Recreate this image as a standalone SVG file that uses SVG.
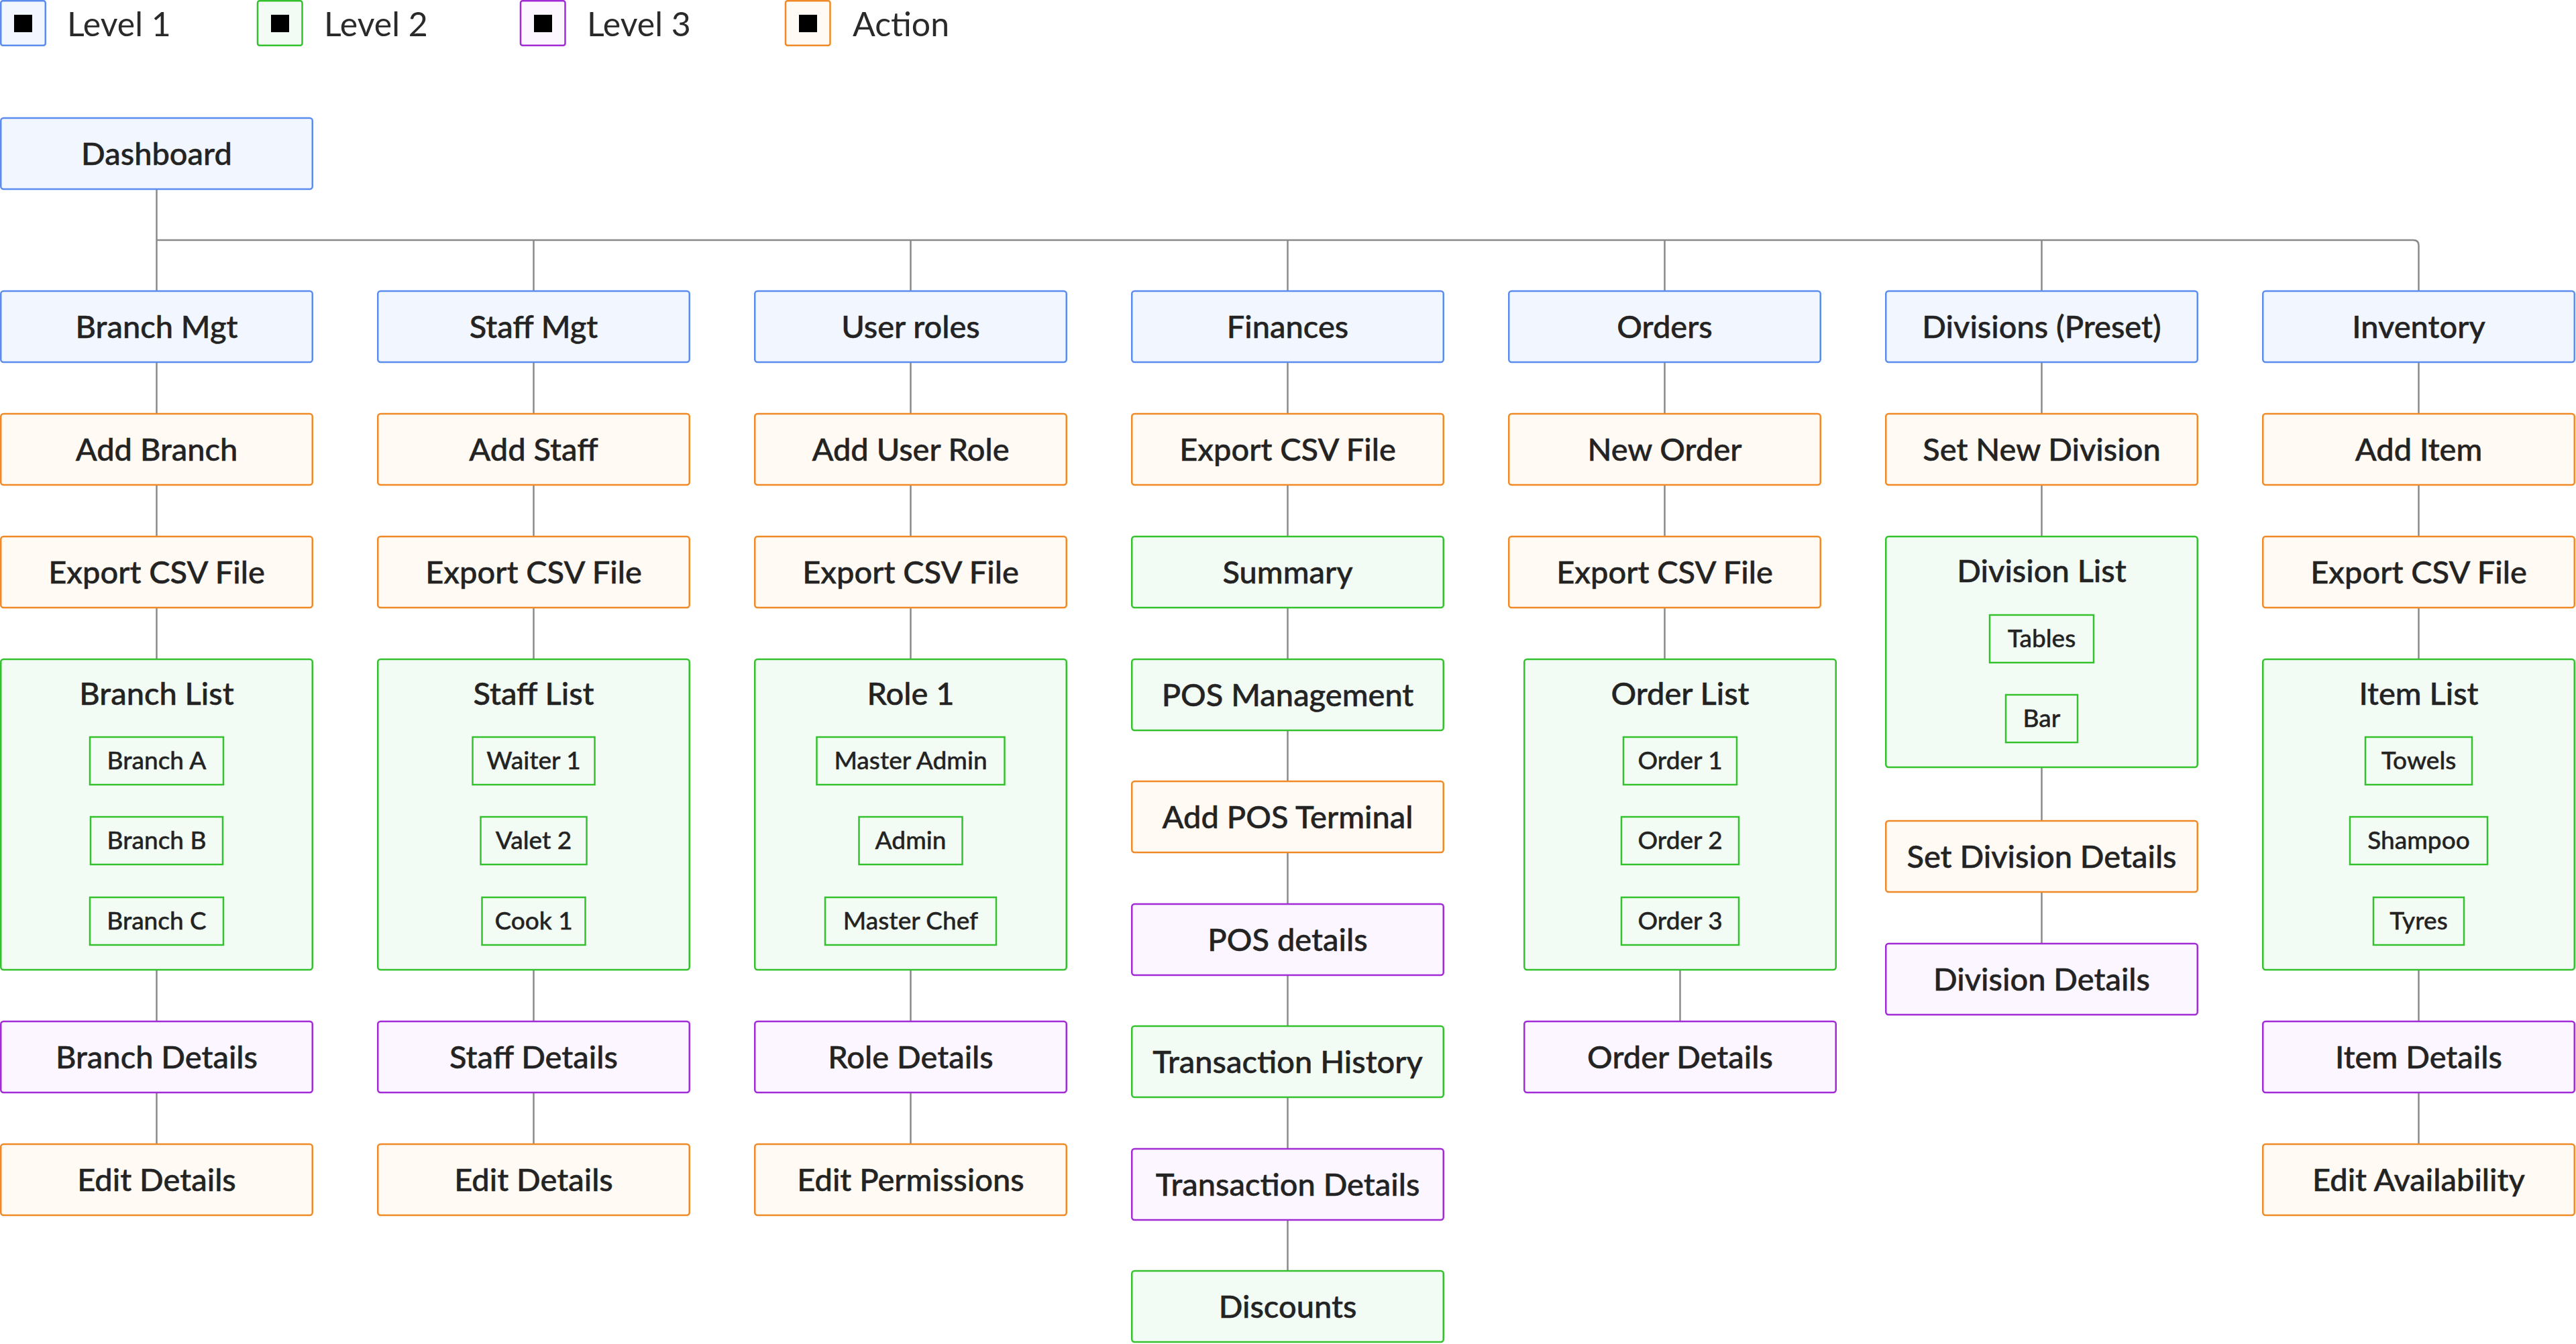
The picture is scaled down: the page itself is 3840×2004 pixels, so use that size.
<svg xmlns="http://www.w3.org/2000/svg" width="3840" height="2004" viewBox="0 0 3840 2004">
<style>
.l1{fill:#f2f6ff;stroke:#5b8def;stroke-width:2.5}
.l2{fill:#f3fcf4;stroke:#33c22e;stroke-width:2.5}
.l3{fill:#fbf6ff;stroke:#a22bd6;stroke-width:2.5}
.ac{fill:#fffaf4;stroke:#f08a26;stroke-width:2.5}
.it{fill:#f3fcf4;stroke:#33c22e;stroke-width:2.5}
.sq{fill:#000}
text{font-family:Lato,"Liberation Sans",sans-serif;fill:#232323;text-anchor:middle}
.t{font-size:47px;font-weight:500;stroke:#232323;stroke-width:0.5px}
.s{font-size:37px;font-weight:500;stroke:#232323;stroke-width:0.4px}
.lg{font-size:50px;text-anchor:start;fill:#2a2a2a}
.c{fill:none;stroke:#8a8a8a;stroke-width:2.5}
</style>

<g id="legend">
  <rect class="l1" x="1.25" y="1.25" width="66.5" height="66.5" rx="3"/><rect class="sq" x="21" y="22" width="27" height="26"/><text class="lg" x="100" y="54">Level 1</text>
  <rect class="l2" x="384" y="1.25" width="66.5" height="66.5" rx="3"/><rect class="sq" x="404" y="22" width="27" height="26"/><text class="lg" x="483" y="54">Level 2</text>
  <rect class="l3" x="776" y="1.25" width="66.5" height="66.5" rx="3"/><rect class="sq" x="796" y="22" width="27" height="26"/><text class="lg" x="875" y="54">Level 3</text>
  <rect class="ac" x="1171" y="1.25" width="66.5" height="66.5" rx="3"/><rect class="sq" x="1191" y="22" width="27" height="26"/><text class="lg" x="1271" y="54">Action</text>
</g>

<g id="connectors">
  <path class="c" d="M233.5 282V434"/>
  <path class="c" d="M233.5 358H3597.5Q3605.5 358 3605.5 366V434"/>
  <path class="c" d="M795.5 358V434M1357.5 358V434M1919.5 358V434M2481.5 358V434M3043.5 358V434"/>
  <path class="c" d="M233.5 540V617M233.5 723V800M233.5 906V983M233.5 1446V1523M233.5 1629V1706"/>
  <path class="c" d="M795.5 540V617M795.5 723V800M795.5 906V983M795.5 1446V1523M795.5 1629V1706"/>
  <path class="c" d="M1357.5 540V617M1357.5 723V800M1357.5 906V983M1357.5 1446V1523M1357.5 1629V1706"/>
  <path class="c" d="M1919.5 540V617M1919.5 723V800M1919.5 906V983M1919.5 1089V1165M1919.5 1271V1348M1919.5 1454V1530M1919.5 1636V1713M1919.5 1819V1895"/>
  <path class="c" d="M2481.5 540V617M2481.5 723V800M2481.5 906V983M2504.5 1446V1523"/>
  <path class="c" d="M3043.5 540V617M3043.5 723V800M3043.5 1144V1224M3043.5 1330V1407"/>
  <path class="c" d="M3605.5 540V617M3605.5 723V800M3605.5 906V983M3605.5 1446V1523M3605.5 1629V1706"/>
</g>

<g id="n-dashboard"><rect class="l1" x="1.25" y="176" width="464.5" height="106" rx="4"/><text class="t" x="233.5" y="246">Dashboard</text></g>

<!-- Column 0 -->
<g id="n-branch-mgt"><rect class="l1" x="1.25" y="434" width="464.5" height="106" rx="4"/><text class="t" x="233.5" y="504">Branch Mgt</text></g>
<g id="n-add-branch"><rect class="ac" x="1.25" y="617" width="464.5" height="106" rx="4"/><text class="t" x="233.5" y="687">Add Branch</text></g>
<g id="n-branch-export"><rect class="ac" x="1.25" y="800" width="464.5" height="106" rx="4"/><text class="t" x="233.5" y="870">Export CSV File</text></g>
<g id="n-branch-list"><rect class="l2" x="1.25" y="983" width="464.5" height="463" rx="4"/><text class="t" x="233.5" y="1051">Branch List</text>
  <rect class="it" x="134" y="1099" width="199" height="71"/><text class="s" x="233.5" y="1147">Branch A</text>
  <rect class="it" x="135" y="1218" width="197" height="71"/><text class="s" x="233.5" y="1266">Branch B</text>
  <rect class="it" x="134" y="1338" width="199" height="71"/><text class="s" x="233.5" y="1386">Branch C</text>
</g>
<g id="n-branch-details"><rect class="l3" x="1.25" y="1523" width="464.5" height="106" rx="4"/><text class="t" x="233.5" y="1593">Branch Details</text></g>
<g id="n-branch-edit"><rect class="ac" x="1.25" y="1706" width="464.5" height="106" rx="4"/><text class="t" x="233.5" y="1776">Edit Details</text></g>

<!-- Column 1 -->
<g id="n-staff-mgt"><rect class="l1" x="563.25" y="434" width="464.5" height="106" rx="4"/><text class="t" x="795.5" y="504">Staff Mgt</text></g>
<g id="n-add-staff"><rect class="ac" x="563.25" y="617" width="464.5" height="106" rx="4"/><text class="t" x="795.5" y="687">Add Staff</text></g>
<g id="n-staff-export"><rect class="ac" x="563.25" y="800" width="464.5" height="106" rx="4"/><text class="t" x="795.5" y="870">Export CSV File</text></g>
<g id="n-staff-list"><rect class="l2" x="563.25" y="983" width="464.5" height="463" rx="4"/><text class="t" x="795.5" y="1051">Staff List</text>
  <rect class="it" x="704.5" y="1099" width="182" height="71"/><text class="s" x="795.5" y="1147">Waiter 1</text>
  <rect class="it" x="716.5" y="1218" width="158" height="71"/><text class="s" x="795.5" y="1266">Valet 2</text>
  <rect class="it" x="718.5" y="1338" width="154" height="71"/><text class="s" x="795.5" y="1386">Cook 1</text>
</g>
<g id="n-staff-details"><rect class="l3" x="563.25" y="1523" width="464.5" height="106" rx="4"/><text class="t" x="795.5" y="1593">Staff Details</text></g>
<g id="n-staff-edit"><rect class="ac" x="563.25" y="1706" width="464.5" height="106" rx="4"/><text class="t" x="795.5" y="1776">Edit Details</text></g>

<!-- Column 2 -->
<g id="n-user-roles"><rect class="l1" x="1125.25" y="434" width="464.5" height="106" rx="4"/><text class="t" x="1357.5" y="504">User roles</text></g>
<g id="n-add-role"><rect class="ac" x="1125.25" y="617" width="464.5" height="106" rx="4"/><text class="t" x="1357.5" y="687">Add User Role</text></g>
<g id="n-role-export"><rect class="ac" x="1125.25" y="800" width="464.5" height="106" rx="4"/><text class="t" x="1357.5" y="870">Export CSV File</text></g>
<g id="n-role-1"><rect class="l2" x="1125.25" y="983" width="464.5" height="463" rx="4"/><text class="t" x="1357.5" y="1051">Role 1</text>
  <rect class="it" x="1217.5" y="1099" width="280" height="71"/><text class="s" x="1357.5" y="1147">Master Admin</text>
  <rect class="it" x="1280.5" y="1218" width="154" height="71"/><text class="s" x="1357.5" y="1266">Admin</text>
  <rect class="it" x="1230" y="1338" width="255" height="71"/><text class="s" x="1357.5" y="1386">Master Chef</text>
</g>
<g id="n-role-details"><rect class="l3" x="1125.25" y="1523" width="464.5" height="106" rx="4"/><text class="t" x="1357.5" y="1593">Role Details</text></g>
<g id="n-role-edit"><rect class="ac" x="1125.25" y="1706" width="464.5" height="106" rx="4"/><text class="t" x="1357.5" y="1776">Edit Permissions</text></g>

<!-- Column 3 -->
<g id="n-finances"><rect class="l1" x="1687.25" y="434" width="464.5" height="106" rx="4"/><text class="t" x="1919.5" y="504">Finances</text></g>
<g id="n-fin-export"><rect class="ac" x="1687.25" y="617" width="464.5" height="106" rx="4"/><text class="t" x="1919.5" y="687">Export CSV File</text></g>
<g id="n-summary"><rect class="l2" x="1687.25" y="800" width="464.5" height="106" rx="4"/><text class="t" x="1919.5" y="870">Summary</text></g>
<g id="n-pos-mgmt"><rect class="l2" x="1687.25" y="983" width="464.5" height="106" rx="4"/><text class="t" x="1919.5" y="1053">POS Management</text></g>
<g id="n-add-pos"><rect class="ac" x="1687.25" y="1165" width="464.5" height="106" rx="4"/><text class="t" x="1919.5" y="1235">Add POS Terminal</text></g>
<g id="n-pos-details"><rect class="l3" x="1687.25" y="1348" width="464.5" height="106" rx="4"/><text class="t" x="1919.5" y="1418">POS details</text></g>
<g id="n-txn-history"><rect class="l2" x="1687.25" y="1530" width="464.5" height="106" rx="4"/><text class="t" x="1919.5" y="1600">Transaction History</text></g>
<g id="n-txn-details"><rect class="l3" x="1687.25" y="1713" width="464.5" height="106" rx="4"/><text class="t" x="1919.5" y="1783">Transaction Details</text></g>
<g id="n-discounts"><rect class="l2" x="1687.25" y="1895" width="464.5" height="106" rx="4"/><text class="t" x="1919.5" y="1965">Discounts</text></g>

<!-- Column 4 -->
<g id="n-orders"><rect class="l1" x="2249.25" y="434" width="464.5" height="106" rx="4"/><text class="t" x="2481.5" y="504">Orders</text></g>
<g id="n-new-order"><rect class="ac" x="2249.25" y="617" width="464.5" height="106" rx="4"/><text class="t" x="2481.5" y="687">New Order</text></g>
<g id="n-order-export"><rect class="ac" x="2249.25" y="800" width="464.5" height="106" rx="4"/><text class="t" x="2481.5" y="870">Export CSV File</text></g>
<g id="n-order-list"><rect class="l2" x="2272.25" y="983" width="464.5" height="463" rx="4"/><text class="t" x="2504.5" y="1051">Order List</text>
  <rect class="it" x="2420" y="1099" width="169" height="71"/><text class="s" x="2504.5" y="1147">Order 1</text>
  <rect class="it" x="2417" y="1218" width="175" height="71"/><text class="s" x="2504.5" y="1266">Order 2</text>
  <rect class="it" x="2417" y="1338" width="175" height="71"/><text class="s" x="2504.5" y="1386">Order 3</text>
</g>
<g id="n-order-details"><rect class="l3" x="2272.25" y="1523" width="464.5" height="106" rx="4"/><text class="t" x="2504.5" y="1593">Order Details</text></g>

<!-- Column 5 -->
<g id="n-divisions"><rect class="l1" x="2811.25" y="434" width="464.5" height="106" rx="4"/><text class="t" x="3043.5" y="504">Divisions (Preset)</text></g>
<g id="n-set-new-division"><rect class="ac" x="2811.25" y="617" width="464.5" height="106" rx="4"/><text class="t" x="3043.5" y="687">Set New Division</text></g>
<g id="n-division-list"><rect class="l2" x="2811.25" y="800" width="464.5" height="344" rx="4"/><text class="t" x="3043.5" y="868">Division List</text>
  <rect class="it" x="2966" y="917" width="155" height="71"/><text class="s" x="3043.5" y="965">Tables</text>
  <rect class="it" x="2990" y="1036" width="107" height="71"/><text class="s" x="3043.5" y="1084">Bar</text>
</g>
<g id="n-set-division-details"><rect class="ac" x="2811.25" y="1224" width="464.5" height="106" rx="4"/><text class="t" x="3043.5" y="1294">Set Division Details</text></g>
<g id="n-division-details"><rect class="l3" x="2811.25" y="1407" width="464.5" height="106" rx="4"/><text class="t" x="3043.5" y="1477">Division Details</text></g>

<!-- Column 6 -->
<g id="n-inventory"><rect class="l1" x="3373.25" y="434" width="464.5" height="106" rx="4"/><text class="t" x="3605.5" y="504">Inventory</text></g>
<g id="n-add-item"><rect class="ac" x="3373.25" y="617" width="464.5" height="106" rx="4"/><text class="t" x="3605.5" y="687">Add Item</text></g>
<g id="n-item-export"><rect class="ac" x="3373.25" y="800" width="464.5" height="106" rx="4"/><text class="t" x="3605.5" y="870">Export CSV File</text></g>
<g id="n-item-list"><rect class="l2" x="3373.25" y="983" width="464.5" height="463" rx="4"/><text class="t" x="3605.5" y="1051">Item List</text>
  <rect class="it" x="3526" y="1099" width="159" height="71"/><text class="s" x="3605.5" y="1147">Towels</text>
  <rect class="it" x="3503" y="1218" width="205" height="71"/><text class="s" x="3605.5" y="1266">Shampoo</text>
  <rect class="it" x="3538" y="1338" width="135" height="71"/><text class="s" x="3605.5" y="1386">Tyres</text>
</g>
<g id="n-item-details"><rect class="l3" x="3373.25" y="1523" width="464.5" height="106" rx="4"/><text class="t" x="3605.5" y="1593">Item Details</text></g>
<g id="n-item-edit"><rect class="ac" x="3373.25" y="1706" width="464.5" height="106" rx="4"/><text class="t" x="3605.5" y="1776">Edit Availability</text></g>
</svg>
